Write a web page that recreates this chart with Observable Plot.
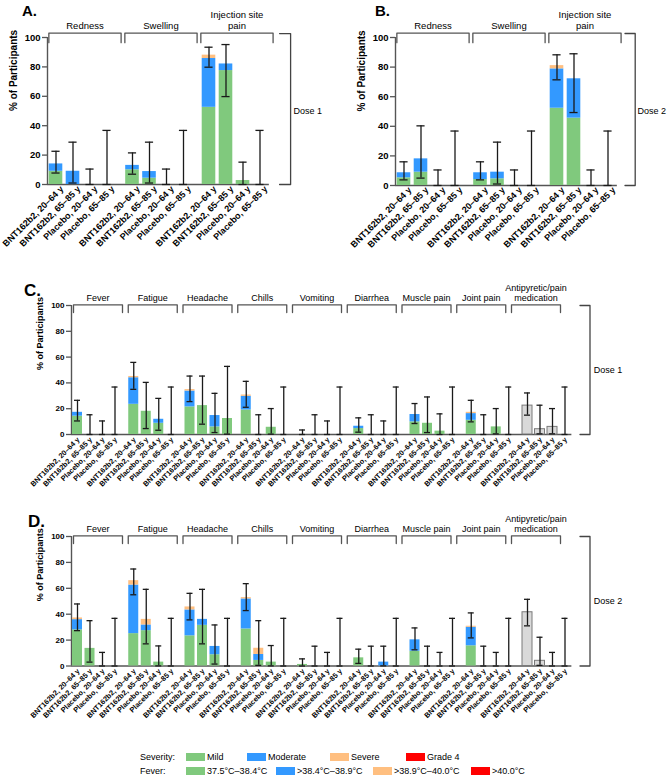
<!DOCTYPE html>
<html><head><meta charset="utf-8">
<script src="https://cdn.jsdelivr.net/npm/d3@7"></script>
<script src="https://cdn.jsdelivr.net/npm/@observablehq/plot@0.6"></script>
<style>
body{margin:0;background:#fff;font-family:"Liberation Sans",Arial,sans-serif;}
#fig{position:relative;width:667px;height:776px;overflow:hidden;background:#fff;}
.panel{position:absolute;}
.letter{position:absolute;font-weight:bold;color:#000;line-height:1;}
.lg{position:absolute;font-size:9px;color:#000;white-space:nowrap;line-height:10px;}
.sw{position:absolute;height:8px;width:19px;}
</style></head><body><div id="fig"></div>
<script>
// ---------- categories ----------
const subgroups = ["BNT162b2, 20–64 y", "BNT162b2, 65–85 y", "Placebo, 20–64 y", "Placebo, 65–85 y"];
const localReactions = ["Redness", "Swelling", "Injection site\npain"];
const systemicEvents = ["Fever", "Fatigue", "Headache", "Chills", "Vomiting", "Diarrhea", "Muscle pain", "Joint pain"];
const medicationLabel = "Antipyretic/pain\nmedication";
const yTicks = [0, 20, 40, 60, 80, 100];
const severityLevels = ["Mild", "Moderate", "Severe", "Grade 4"];
const feverLevels = ["37.5°C–38.4°C", ">38.4°C–38.9°C", ">38.9°C–40.0°C", ">40.0°C"];

// ---------- Panel A: local reactions, dose 1 (% of participants) ----------
const doseA_mild     = [9.0, 0, 0, 0,   10.0, 4.3, 0, 0,   52.5, 77.5, 2.7, 0];
const doseA_moderate = [5.0, 9.0, 0, 0, 3.0, 4.5, 0, 0,    33.2, 4.5, 0, 0];
const doseA_severe   = [0, 0, 0, 0,     0, 0, 0, 0,        2.3, 0, 0, 0];
const doseA_grade4   = [0, 0, 0, 0,     0, 0, 0, 0,        0, 0, 0, 0];
const doseA_ciLow    = [7.8, 1.0, 0, 0,     7.0, 1.0, 0, 0,      79.8, 59.8, 0, 0];
const doseA_ciHigh   = [22.6, 28.8, 10.5, 36.8, 21.5, 28.8, 10.5, 36.8, 93.4, 95.2, 15.2, 36.8];

// ---------- Panel B: local reactions, dose 2 ----------
const doseB_mild     = [5.2, 9.0, 0, 0,  4.0, 4.5, 0, 0,   52.2, 45.5, 0, 0];
const doseB_moderate = [3.4, 9.0, 0, 0,  4.6, 4.5, 0, 0,   26.6, 26.6, 0, 0];
const doseB_severe   = [0, 0, 0, 0,      0, 0, 0, 0,       2.2, 0, 0, 0];
const doseB_grade4   = [0, 0, 0, 0,      0, 0, 0, 0,       0, 0, 0, 0];
const doseB_ciLow    = [3.8, 5.0, 0, 0,      3.8, 1.0, 0, 0,      71.4, 49.3, 0, 0];
const doseB_ciHigh   = [16.0, 40.3, 10.5, 36.8, 16.0, 29.3, 10.5, 36.8, 88.3, 89.0, 10.5, 36.8];

// ---------- Panel C: systemic events, dose 1 ----------
const doseC_mild     = [14.2, 0, 0, 0,  23.4, 18.0, 8.7, 0,  21.4, 22.4, 5.9, 12.4,  19.0, 0, 5.6, 0,
                        0, 0, 0, 0,     4.6, 0, 0, 0,        9.8, 8.7, 2.6, 0,       11.0, 0, 5.9, 0];
const doseC_moderate = [3.0, 0, 0, 0,   20.6, 0, 3.1, 0,     12.3, 0, 8.8, 0,        10.6, 0, 0, 0,
                        0, 0, 0, 0,     1.8, 0, 0, 0,        5.7, 0, 0, 0,           5.2, 0, 0, 0];
const doseC_severe   = [0, 0, 0, 0,     1.0, 0, 0, 0,        1.1, 0, 0, 0,           1.0, 0, 0, 0,
                        0, 0, 0, 0,     0, 0, 0, 0,          0, 0, 0, 0,             1.0, 0, 0, 0];
const doseC_grade4   = [0, 0, 0, 0, 0, 0, 0, 0, 0, 0, 0, 0, 0, 0, 0, 0,
                        0, 0, 0, 0, 0, 0, 0, 0, 0, 0, 0, 0, 0, 0, 0, 0];
const doseC_medication = [22.4, 4.1, 5.9, 0];
const doseC_ciLow  = [10.5, 0, 0, 0,  35.0, 4.6, 3.3, 0,  25.5, 8.0, 1.5, 0.3,  21.1, 0, 0.3, 0,  0, 0, 0, 0,
                      1.8, 0, 0, 0,   8.5, 1.5, 0, 0,     9.8, 0, 0.5, 0,       15.0, 0.5, 0.5, 0];
const doseC_ciHigh = [26.5, 15.3, 10.5, 36.8,  55.9, 40.4, 28.0, 36.8,  45.3, 45.3, 31.9, 52.8,  41.2, 15.3, 20.1, 36.8,
                      3.5, 15.3, 10.5, 36.8,   12.9, 15.3, 10.5, 36.8,  24.0, 29.1, 16.0, 36.8,  26.5, 15.3, 20.1, 36.8,
                      32.2, 22.7, 20.1, 36.8];

// ---------- Panel D: systemic events, dose 2 ----------
const doseD_mild     = [27.9, 13.6, 0, 0,  25.0, 27.3, 3.0, 0,  23.3, 31.4, 8.7, 0,  28.6, 4.3, 3.0, 0,
                        1.2, 0, 0, 0,      6.3, 0, 0, 0,        11.4, 0, 0, 0,       15.6, 0, 0, 0];
const doseD_moderate = [7.9, 0, 0, 0,      37.5, 4.4, 0, 0,     20.0, 4.6, 6.4, 0,   23.2, 4.6, 0, 0,
                        0, 0, 0, 0,        0, 0, 3.0, 0,        8.8, 0, 0, 0,        14.3, 0, 0, 0];
const doseD_severe   = [1.3, 0, 0, 0,      3.4, 4.3, 0, 0,      2.3, 0, 0, 0,        1.0, 4.8, 0, 0,
                        0, 0, 0, 0,        0, 0, 0, 0,          0, 0, 0, 0,          0.8, 0, 0, 0];
const doseD_grade4   = [0, 0, 0, 0, 0, 0, 0, 0, 0, 0, 0, 0, 0, 0, 0, 0,
                        0, 0, 0, 0, 0, 0, 0, 0, 0, 0, 0, 0, 0, 0, 0, 0];
const doseD_medication = [41.5, 4.0, 0, 0];
const doseD_ciLow  = [27.3, 3.0, 0, 0,  55.0, 17.1, 0.1, 0,  35.6, 17.1, 1.5, 0,  42.8, 0.5, 0.1, 0,  0, 0, 0, 0,
                      2.0, 0, 0.1, 0,   12.5, 0, 0, 0,       21.7, 0, 0, 0,       31.0, 0.5, 0, 0];
const doseD_ciHigh = [47.9, 35.0, 10.5, 36.8,  74.9, 59.2, 15.5, 36.8,  56.1, 59.2, 31.7, 36.8,  63.6, 35.0, 15.8, 36.8,
                      5.5, 15.3, 10.5, 36.8,   13.0, 15.3, 15.3, 36.8,  29.4, 15.3, 10.5, 36.8,  41.0, 15.3, 10.5, 36.8,
                      51.5, 22.2, 10.5, 36.8];

// ---------- styling ----------
const colorDomain = [...severityLevels, "Medication"];
const colorRange = ["#80c97d", "#3399ff", "#ffbf80", "#ff0000", "#d9d9d9"];
const FONT = "'Liberation Sans', Arial, Helvetica, sans-serif";
const GROUP_STEP = 4.5;

function buildRows(groups, nSeverityGroups, sev, medication, ciLow, ciHigh) {
  const rows = [];
  groups.forEach((group, g) => subgroups.forEach((sub, s) => {
    const i = g * subgroups.length + s;
    const isMed = g >= nSeverityGroups;
    rows.push({
      g, s, pos: g * GROUP_STEP + s, group, sub, isMed,
      vals: isMed ? [medication[s]] : sev.map(a => a[i]),
      lo: ciLow[i], hi: ciHigh[i]
    });
  }));
  return rows;
}

function buildSegments(rows) {
  const segs = [];
  for (const r of rows) {
    if (r.isMed) { segs.push({pos: r.pos, y1: 0, y2: r.vals[0], level: "Medication"}); continue; }
    let base = 0;
    r.vals.forEach((v, k) => { if (v > 0) { segs.push({pos: r.pos, y1: base, y2: base + v, level: severityLevels[k]}); base += v; } });
  }
  return segs;
}

function panel(cfg) {
  const rows = buildRows(cfg.groups, cfg.nSev, cfg.sev, cfg.medication, cfg.ciLow, cfg.ciHigh);
  const segs = buildSegments(rows);
  const last = d3.max(rows, d => d.pos);
  const labelMap = new Map(rows.map(r => [r.pos, r.sub]));
  const brackets = cfg.groups.flatMap((grp, g) => {
    const a = cfg.bStart + g * cfg.bStep, b = a + cfg.bWidth;
    return [{g, x: a, y: cfg.bLow}, {g, x: a, y: cfg.bTop}, {g, x: b, y: cfg.bTop}, {g, x: b, y: cfg.bLow}];
  });
  const groupLabels = cfg.groups.map((grp, g) => ({text: grp, x: cfg.bStart + g * cfg.bStep + cfg.bWidth / 2}));
  const dose = [{x: last + cfg.d1, y: cfg.dTop}, {x: last + cfg.d2, y: cfg.dTop}, {x: last + cfg.d2, y: 0}, {x: last + cfg.d1, y: 0}];
  const hw = 0.4, cap = 0.24;
  const svg = Plot.plot({
    width: cfg.width, height: cfg.height,
    marginLeft: cfg.ml, marginRight: cfg.mr, marginTop: cfg.mt, marginBottom: cfg.mb,
    x: {type: "linear", domain: [cfg.xMin, cfg.xMax]},
    y: {domain: [0, 100]},
    color: {domain: colorDomain, range: colorRange},
    style: {fontFamily: FONT, fontSize: "9px", background: "transparent", overflow: "visible", color: "#000"},
    marks: [
      Plot.ruleY([0], {x1: cfg.xMin, x2: last + 0.55, stroke: "#555", strokeWidth: 1.4}),
      Plot.ruleX([cfg.xMin], {y1: 0, y2: 100, stroke: "#555", strokeWidth: 1.4}),
      Plot.rectY(segs.filter(d => d.level !== "Medication"), {x1: d => d.pos - hw, x2: d => d.pos + hw, y1: "y1", y2: "y2", fill: "level"}),
      Plot.rectY(segs.filter(d => d.level === "Medication"), {x1: d => d.pos - hw, x2: d => d.pos + hw, y1: "y1", y2: "y2", fill: "level", stroke: "#7a7a7a", strokeWidth: 1}),
      Plot.ruleX(rows, {x: "pos", y1: "lo", y2: "hi", stroke: "#1a1a1a", strokeWidth: 1.3}),
      Plot.ruleY(rows, {y: "lo", x1: d => d.pos - cap, x2: d => d.pos + cap, stroke: "#1a1a1a", strokeWidth: 1.3}),
      Plot.ruleY(rows, {y: "hi", x1: d => d.pos - cap, x2: d => d.pos + cap, stroke: "#1a1a1a", strokeWidth: 1.3}),
      Plot.axisY({ticks: yTicks, tickSize: 5, tickPadding: 2, label: null, stroke: "#555", strokeWidth: 1.3, fontWeight: "bold", fontSize: cfg.yTickFont}),
      Plot.axisX({ticks: rows.map(r => r.pos), tickFormat: p => labelMap.get(p), tickRotate: -45, tickSize: 0, tickPadding: cfg.xPad, dx: cfg.xDx, label: null, fontWeight: "bold", fontSize: cfg.xTickFont}),
      Plot.line(brackets, {x: "x", y: "y", z: "g", stroke: "#555", strokeWidth: 1.3}),
      Plot.text(groupLabels, {x: "x", y: cfg.bTop, dy: -4, text: "text", lineAnchor: "bottom", fontSize: cfg.groupFont, lineHeight: 1.15}),
      Plot.line(dose, {x: "x", y: "y", stroke: "#444", strokeWidth: 1.3}),
      Plot.text([cfg.doseLabel], {x: last + cfg.dText, y: 50, text: d => d, textAnchor: "start", fontSize: 9}),
      Plot.text(["% of Participants"], {frameAnchor: "left", dx: -cfg.ylabDx, rotate: -90, text: d => d, fontWeight: "bold", fontSize: cfg.ylabFont})
    ]
  });
  svg.classList.add("panel");
  svg.style.left = cfg.left + "px";
  svg.style.top = cfg.top + "px";
  return svg;
}

const fig = document.getElementById("fig");
const localCommon = {groups: localReactions, nSev: 3, medication: [], xMin: -0.5, xMax: 15,
  bStart: -0.42, bStep: 4.47, bWidth: 4.25, bTop: 103, bLow: 96.5, dTop: 102.7,
  yTickFont: 9.5, xTickFont: 9, xPad: 3, xDx: 6, groupFont: 9.5, ylabFont: 10, ylabDx: 34, height: 290};
const sysGroups = [...systemicEvents, medicationLabel];
const sysCommon = {groups: sysGroups, nSev: 8, xMin: -0.48, xMax: 44, width: 667, ml: 71, mr: 40,
  bStart: -0.32, bStep: 4.38, bWidth: 3.92, bTop: 100.5, bLow: 94.5, d1: 1.2, d2: 2.0, dTop: 100, dText: 2.3,
  yTickFont: 8, xTickFont: 7.3, xPad: 4, xDx: 1, groupFont: 9, ylabFont: 9, ylabDx: 31};

fig.appendChild(panel({...localCommon, left: 0, top: 0, width: 330, ml: 47, mr: 19.5, mt: 37, mb: 106,
  d1: 1.15, d2: 1.8, dText: 1.97,
  sev: [doseA_mild, doseA_moderate, doseA_severe, doseA_grade4], ciLow: doseA_ciLow, ciHigh: doseA_ciHigh, doseLabel: "Dose 1"}));
fig.appendChild(panel({...localCommon, left: 330, top: 0, width: 337, ml: 65, mr: 8.5, mt: 37, mb: 105,
  d1: 1.0, d2: 1.6, dText: 1.74,
  sev: [doseB_mild, doseB_moderate, doseB_severe, doseB_grade4], ciLow: doseB_ciLow, ciHigh: doseB_ciHigh, doseLabel: "Dose 2"}));
fig.appendChild(panel({...sysCommon, left: 0, top: 270, height: 230, mt: 35, mb: 66,
  sev: [doseC_mild, doseC_moderate, doseC_severe, doseC_grade4], medication: doseC_medication,
  ciLow: doseC_ciLow, ciHigh: doseC_ciHigh, doseLabel: "Dose 1"}));
fig.appendChild(panel({...sysCommon, left: 0, top: 500, height: 235, mt: 36, mb: 69.5,
  sev: [doseD_mild, doseD_moderate, doseD_severe, doseD_grade4], medication: doseD_medication,
  ciLow: doseD_ciLow, ciHigh: doseD_ciHigh, doseLabel: "Dose 2"}));

// panel letters
const letters = [["A.", 22, 3, 15], ["B.", 375, 3, 15], ["C.", 24, 282, 17], ["D.", 28, 513, 17]];
for (const [t, x, y, fs] of letters) {
  const d = document.createElement("div");
  d.className = "letter"; d.textContent = t;
  d.style.left = x + "px"; d.style.top = y + "px"; d.style.fontSize = fs + "px";
  fig.appendChild(d);
}

// legend
function addText(t, x, y) { const d = document.createElement("div"); d.className = "lg"; d.textContent = t; d.style.left = x + "px"; d.style.top = (y - 5) + "px"; fig.appendChild(d); }
function addSwatch(c, x, y) { const d = document.createElement("div"); d.className = "sw"; d.style.background = c; d.style.left = x + "px"; d.style.top = (y - 4) + "px"; fig.appendChild(d); }
addText("Severity:", 140, 757);
addText("Fever:", 140, 771);
const row1X = [186, 247, 330, 406];
const row2X = [186, 276, 373, 471];
severityLevels.forEach((lab, k) => { addSwatch(colorRange[k], row1X[k], 757); addText(lab, row1X[k] + 21, 757); });
feverLevels.forEach((lab, k) => { addSwatch(colorRange[k], row2X[k], 771); addText(lab, row2X[k] + 21, 771); });
</script></body></html>
